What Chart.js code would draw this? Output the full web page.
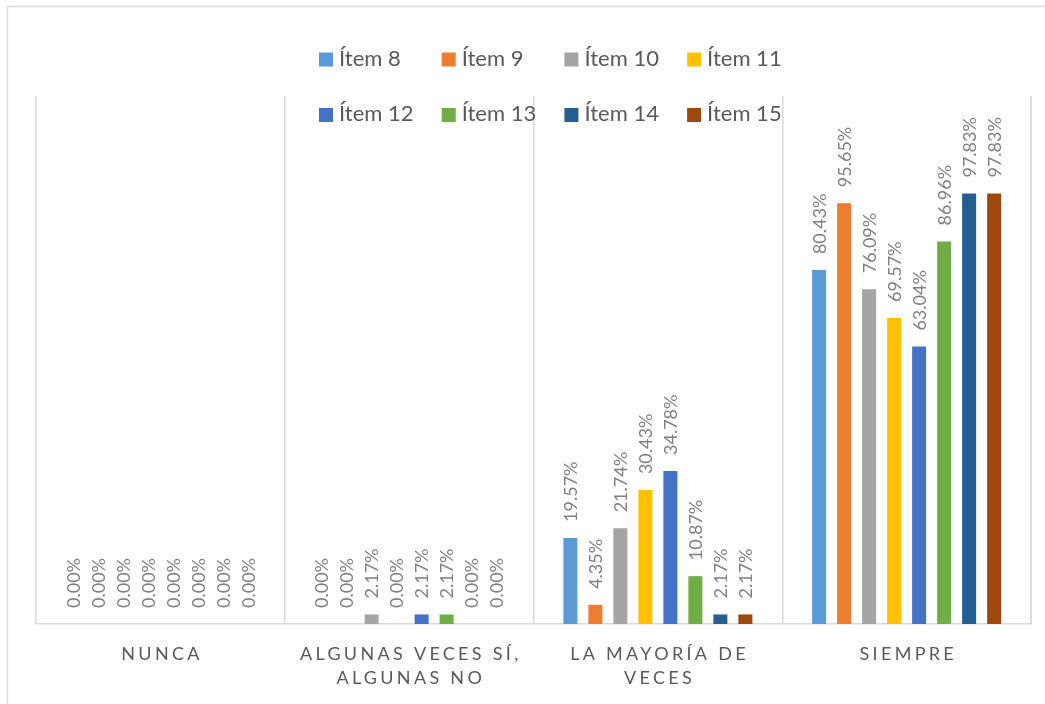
<!DOCTYPE html>
<html>
<head>
<meta charset="utf-8">
<script src="https://cdn.jsdelivr.net/npm/chart.js@4.4.1/dist/chart.umd.min.js"></script>
<style>
  html, body { margin: 0; padding: 0; background: #ffffff; }
  #wrap { width: 1045px; height: 704px; }
</style>
</head>
<body>
<div id="wrap"><canvas id="c" width="1045" height="704"></canvas></div>
<script>
// Answer categories (multi-line axis labels)
const categories = [
  ['NUNCA'],
  ['ALGUNAS VECES SÍ,', 'ALGUNAS NO'],
  ['LA MAYORÍA DE', 'VECES'],
  ['SIEMPRE']
];

// Series names
const itemNames = ['Ítem 8', 'Ítem 9', 'Ítem 10', 'Ítem 11', 'Ítem 12', 'Ítem 13', 'Ítem 14', 'Ítem 15'];

// Percentages per item, in category order
const item8  = [0, 0,    19.57, 80.43];
const item9  = [0, 0,     4.35, 95.65];
const item10 = [0, 2.17, 21.74, 76.09];
const item11 = [0, 0,    30.43, 69.57];
const item12 = [0, 2.17, 34.78, 63.04];
const item13 = [0, 2.17, 10.87, 86.96];
const item14 = [0, 0,     2.17, 97.83];
const item15 = [0, 0,     2.17, 97.83];

const seriesValues = [item8, item9, item10, item11, item12, item13, item14, item15];
const seriesColors = ['#5B9BD5', '#ED7D31', '#A5A5A5', '#FFC000', '#4472C4', '#70AD47', '#255E91', '#9E480E'];

const FONT = 'Lato, "Open Sans", sans-serif';
const LINE = '#d9d9d9';

// Light frame around the whole chart, plus the right edge of the plot
const framePlugin = {
  id: 'frame',
  beforeDraw(chart) {
    const ctx = chart.ctx;
    ctx.save();
    ctx.fillStyle = '#ffffff';
    ctx.fillRect(0, 0, chart.width, chart.height);
    ctx.strokeStyle = LINE;
    ctx.lineWidth = 1.5;
    ctx.strokeRect(7.5, 6.5, chart.width + 20, chart.height + 20);
    ctx.restore();
  },
  afterDraw(chart) {
    const { ctx, chartArea } = chart;
    ctx.save();
    ctx.strokeStyle = LINE;
    ctx.lineWidth = 1.5;
    ctx.beginPath();
    ctx.moveTo(chartArea.right, chartArea.top);
    ctx.lineTo(chartArea.right, chartArea.bottom);
    ctx.stroke();
    ctx.restore();
  }
};

// Rotated value labels above each bar
const valueLabels = {
  id: 'valueLabels',
  afterDatasetsDraw(chart) {
    const ctx = chart.ctx;
    ctx.save();
    ctx.font = '18px ' + FONT;
    ctx.fillStyle = '#7f7f7f';
    ctx.textAlign = 'left';
    ctx.textBaseline = 'middle';
    chart.data.datasets.forEach((ds, di) => {
      const meta = chart.getDatasetMeta(di);
      meta.data.forEach((bar, i) => {
        const text = ds.data[i].toFixed(2) + '%';
        ctx.save();
        ctx.translate(bar.x + 1, bar.y - 16);
        ctx.rotate(-Math.PI / 2);
        ctx.fillText(text, 0, 0);
        ctx.restore();
      });
    });
    ctx.restore();
  }
};

// Category labels with letter spacing under the axis
const categoryLabels = {
  id: 'categoryLabels',
  afterDraw(chart) {
    const ctx = chart.ctx;
    const xs = chart.scales.x;
    ctx.save();
    ctx.font = '18px ' + FONT;
    ctx.fillStyle = '#595959';
    ctx.textBaseline = 'middle';
    ctx.textAlign = 'left';
    const spacing = 3.3;
    ctx.letterSpacing = spacing + 'px';
    categories.forEach((lines, i) => {
      const cx = xs.getPixelForValue(i);
      lines.forEach((line, li) => {
        const w = ctx.measureText(line).width - spacing;
        ctx.fillText(line, cx - w / 2, chart.chartArea.bottom + 30 + li * 24);
      });
    });
    ctx.restore();
  }
};

// Two-row legend laid over the top of the plot
const gridLegend = {
  id: 'gridLegend',
  afterDraw(chart) {
    const ctx = chart.ctx;
    ctx.save();
    ctx.font = '22px ' + FONT;
    ctx.textBaseline = 'middle';
    ctx.textAlign = 'left';
    const x0 = 319, colW = 122.7, rows = [59.5, 115];
    chart.data.datasets.forEach((ds, i) => {
      const col = i % 4, row = Math.floor(i / 4);
      const x = x0 + col * colW, y = rows[row];
      ctx.fillStyle = ds.backgroundColor;
      ctx.fillRect(x, y - 7, 14, 14);
      ctx.fillStyle = '#595959';
      ctx.fillText(ds.label, x + 20, y - 1);
    });
    ctx.restore();
  }
};

new Chart(document.getElementById('c'), {
  type: 'bar',
  data: {
    labels: categories.map(c => c.join(' ')),
    datasets: itemNames.map((name, i) => ({
      label: name,
      data: seriesValues[i],
      backgroundColor: seriesColors[i],
      borderWidth: 0,
      categoryPercentage: 0.804,
      barPercentage: 0.56
    }))
  },
  options: {
    responsive: false,
    devicePixelRatio: 1,
    animation: false,
    layout: { padding: { left: 36, right: 14, top: 96, bottom: 80 } },
    plugins: {
      legend: { display: false },
      tooltip: { enabled: false }
    },
    scales: {
      x: {
        display: true,
        offset: true,
        grid: { offset: true, color: LINE, lineWidth: 1.5, drawTicks: false },
        border: { display: true, color: LINE, width: 1.5 },
        ticks: { display: false }
      },
      y: {
        display: false,
        min: 0,
        max: 120
      }
    }
  },
  plugins: [framePlugin, valueLabels, categoryLabels, gridLegend]
});
</script>
</body>
</html>
